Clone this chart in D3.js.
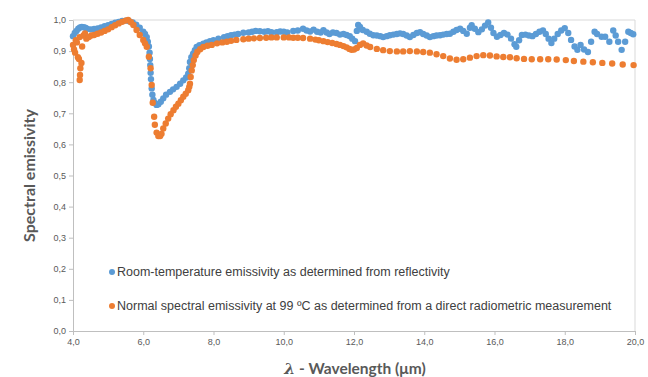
<!DOCTYPE html>
<html lang="en">
<head>
<meta charset="UTF-8">
<title>Spectral emissivity</title>
<script src="https://d3js.org/d3.v7.min.js"></script>
<style>
    body { margin: 0; background: #fff; }
    .tick text { font-family: "Liberation Sans", Arial, sans-serif; font-size: 9px; fill: #595959; }
    .axis path, .axis line { stroke: #bfbfbf; }
    .legend text { font-family: "Liberation Sans", Arial, sans-serif; font-size: 12.5px; fill: #404040; }
    .title { font-family: Lato, "Open Sans", sans-serif; font-weight: bold; fill: #595959; }
</style>
</head>
<body>
<svg width="648" height="377"></svg>
<script>
// tick labels
const xTicks = [4, 6, 8, 10, 12, 14, 16, 18, 20];
const yTicks = [0, 0.1, 0.2, 0.3, 0.4, 0.5, 0.6, 0.7, 0.8, 0.9, 1.0];

const seriesNames = [
    "Room-temperature emissivity as determined from reflectivity",
    "Normal spectral emissivity at 99 \u00BAC as determined from a direct radiometric measurement"
];

// room temperature (from reflectivity)
const roomWl = [4.00,4.05,4.10,4.15,4.20,4.25,4.30,4.35,4.40,4.50,4.60,4.70,4.80,4.90,5.00,5.10,5.20,5.30,5.40,5.50,
    5.60,5.70,5.80,5.90,6.00,6.05,6.10,6.13,6.16,6.18,6.19,6.20,6.21,6.22,6.24,6.26,6.29,6.33,6.38,6.43,
    6.50,6.57,6.65,6.76,6.85,6.95,7.05,7.14,7.22,7.28,7.31,7.33,7.37,7.42,7.47,7.52,7.60,7.71,7.80,7.90,
    8.00,8.14,8.30,8.40,8.50,8.60,8.70,8.85,9.00,9.10,9.20,9.32,9.45,9.55,9.65,9.80,9.90,10.00,10.10,10.27,
    10.40,10.55,10.65,10.75,10.85,10.95,11.05,11.13,11.22,11.30,11.40,11.50,11.60,11.70,11.79,11.88,11.95,12.03,12.08,12.12,
    12.17,12.25,12.36,12.45,12.55,12.65,12.75,12.83,12.93,13.02,13.12,13.22,13.31,13.40,13.50,13.59,13.69,13.79,13.88,13.97,
    14.07,14.16,14.26,14.35,14.45,14.54,14.64,14.73,14.83,14.92,15.02,15.11,15.21,15.30,15.35,15.44,15.54,15.64,15.73,15.82,
    15.90,15.97,16.07,16.17,16.27,16.37,16.47,16.57,16.62,16.70,16.78,16.88,16.98,17.08,17.18,17.28,17.38,17.46,17.54,17.62,
    17.70,17.80,17.90,18.00,18.10,18.18,18.28,18.36,18.45,18.55,18.66,18.75,18.85,18.92,19.05,19.15,19.27,19.38,19.45,19.52,
    19.62,19.72,19.81,19.88,19.95];
const roomEm = [0.948,0.958,0.965,0.972,0.976,0.978,0.977,0.975,0.972,0.970,0.971,0.973,0.976,0.980,0.983,0.987,0.991,0.994,0.997,0.998,
    0.996,0.992,0.985,0.975,0.962,0.955,0.945,0.930,0.915,0.895,0.875,0.855,0.830,0.810,0.780,0.760,0.743,0.733,0.727,0.729,
    0.737,0.748,0.760,0.769,0.777,0.785,0.795,0.806,0.815,0.827,0.845,0.865,0.880,0.892,0.903,0.913,0.919,0.924,0.928,0.932,
    0.935,0.940,0.945,0.948,0.951,0.953,0.955,0.959,0.960,0.962,0.965,0.964,0.962,0.964,0.961,0.961,0.963,0.962,0.960,0.965,
    0.966,0.972,0.966,0.963,0.969,0.962,0.960,0.967,0.960,0.955,0.960,0.958,0.953,0.955,0.952,0.948,0.940,0.932,0.965,0.984,
    0.978,0.968,0.962,0.956,0.951,0.950,0.948,0.945,0.948,0.951,0.953,0.955,0.957,0.955,0.950,0.945,0.952,0.958,0.961,0.955,
    0.950,0.945,0.948,0.950,0.951,0.953,0.955,0.956,0.962,0.968,0.972,0.965,0.956,0.975,0.983,0.972,0.961,0.970,0.982,0.992,
    0.975,0.958,0.946,0.952,0.958,0.953,0.940,0.922,0.914,0.935,0.952,0.953,0.950,0.948,0.955,0.962,0.966,0.955,0.940,0.926,
    0.940,0.955,0.966,0.974,0.958,0.936,0.915,0.904,0.920,0.905,0.897,0.930,0.962,0.955,0.946,0.946,0.930,0.966,0.950,0.930,
    0.904,0.930,0.962,0.958,0.954];

// 99 C (direct radiometric)
const hotWl = [4.00,4.03,4.06,4.08,4.11,4.14,4.17,4.19,4.21,4.20,4.19,4.24,4.26,4.30,4.34,4.38,4.45,4.52,4.60,4.70,
    4.80,4.90,5.00,5.10,5.20,5.30,5.40,5.50,5.57,5.65,5.72,5.81,5.90,6.00,6.05,6.10,6.16,6.21,6.24,6.27,
    6.31,6.33,6.38,6.43,6.48,6.52,6.57,6.64,6.71,6.78,6.86,6.93,7.00,7.07,7.14,7.21,7.28,7.31,7.33,7.35,
    7.38,7.41,7.44,7.49,7.54,7.62,7.71,7.83,7.95,8.10,8.25,8.38,8.50,8.65,8.85,9.00,9.15,9.32,9.50,9.65,
    9.80,10.00,10.15,10.27,10.40,10.55,10.75,10.90,11.00,11.13,11.25,11.38,11.50,11.60,11.70,11.79,11.87,11.93,12.00,12.08,
    12.17,12.26,12.36,12.46,12.65,12.83,13.02,13.22,13.40,13.59,13.79,13.97,14.16,14.35,14.54,14.73,14.92,15.11,15.30,15.49,
    15.68,15.87,16.06,16.25,16.44,16.63,16.84,17.06,17.30,17.53,17.77,18.03,18.26,18.53,18.80,19.07,19.35,19.65,19.96];
const hotEm = [0.920,0.905,0.895,0.935,0.928,0.880,0.875,0.945,0.845,0.823,0.807,0.862,0.915,0.950,0.957,0.940,0.945,0.950,0.952,0.956,
    0.960,0.965,0.970,0.977,0.983,0.989,0.994,0.998,1.000,0.993,0.984,0.968,0.952,0.936,0.925,0.914,0.882,0.845,0.791,0.734,
    0.689,0.663,0.638,0.627,0.627,0.634,0.651,0.667,0.683,0.697,0.710,0.721,0.731,0.742,0.753,0.763,0.774,0.785,0.795,0.817,
    0.838,0.855,0.871,0.886,0.897,0.906,0.913,0.917,0.920,0.925,0.928,0.930,0.933,0.936,0.938,0.940,0.941,0.942,0.943,0.944,
    0.944,0.944,0.944,0.943,0.943,0.942,0.940,0.937,0.935,0.932,0.929,0.926,0.923,0.920,0.916,0.912,0.907,0.904,0.905,0.910,
    0.920,0.925,0.918,0.913,0.907,0.903,0.900,0.899,0.899,0.900,0.899,0.897,0.895,0.890,0.884,0.876,0.872,0.874,0.879,0.884,
    0.887,0.886,0.883,0.881,0.880,0.877,0.875,0.874,0.874,0.874,0.873,0.871,0.868,0.866,0.864,0.862,0.860,0.857,0.855];

const colors = ["#5b9bd5", "#ed7d31"];

const svg = d3.select("svg");
const margin = {left: 73, right: 13, top: 20, bottom: 46};
const W = 648, H = 377;

const x = d3.scaleLinear().domain([4, 20]).range([margin.left, W - margin.right]);
const y = d3.scaleLinear().domain([0, 1]).range([H - margin.bottom, margin.top]);

const comma = d => d.toFixed(1).replace(".", ",");

// plot area border (top and right)
svg.append("path")
    .attr("d", `M${x(4)},${y(1)}H${x(20)}V${y(0)}`)
    .attr("fill", "none")
    .attr("stroke", "#d9d9d9");

svg.append("g")
    .attr("class", "axis")
    .attr("transform", `translate(0,${y(0)})`)
    .call(d3.axisBottom(x).tickValues(xTicks).tickFormat(comma).tickSize(4).tickPadding(4).tickSizeOuter(0));

svg.append("g")
    .attr("class", "axis")
    .attr("transform", `translate(${x(4)},0)`)
    .call(d3.axisLeft(y).tickValues(yTicks).tickFormat(comma).tickSize(4).tickPadding(3).tickSizeOuter(0));

// points
const series = [
    {wl: roomWl, em: roomEm},
    {wl: hotWl, em: hotEm}
];
series.forEach((s, i) => {
    svg.append("g")
        .selectAll("circle")
        .data(s.wl.map((w, j) => [w, s.em[j]]))
        .join("circle")
        .attr("cx", d => x(d[0]))
        .attr("cy", d => y(d[1]))
        .attr("r", 3.2)
        .attr("fill", colors[i]);
});

// legend
const legend = svg.append("g").attr("class", "legend");
seriesNames.forEach((name, i) => {
    const ly = 272 + i * 34;
    legend.append("circle").attr("cx", 112).attr("cy", ly).attr("r", 3).attr("fill", colors[i]);
    legend.append("text").attr("x", 117).attr("y", ly + 4).text(name);
});

// axis titles
svg.append("text")
    .attr("class", "title")
    .attr("transform", `translate(35,${(y(0) + y(1)) / 2}) rotate(-90)`)
    .attr("text-anchor", "middle")
    .attr("font-size", 16)
    .text("Spectral emissivity");

const xt = svg.append("text")
    .attr("class", "title")
    .attr("x", 355)
    .attr("y", 374)
    .attr("text-anchor", "middle")
    .attr("font-size", 15.5);
xt.append("tspan").attr("font-family", "DejaVu Serif").attr("font-style", "italic").text("\u03BB");
xt.append("tspan").text(" - Wavelength (\u03BCm)");
</script>
</body>
</html>
